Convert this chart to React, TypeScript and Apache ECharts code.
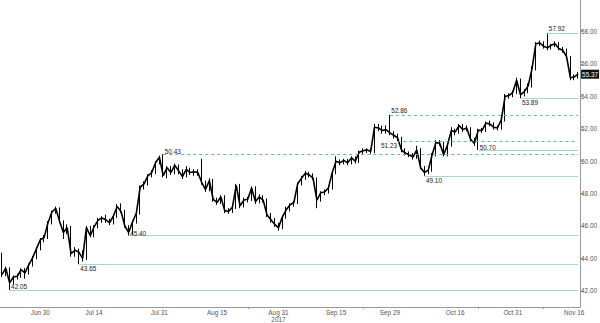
import React, { useEffect, useRef } from "react";
import * as echarts from "echarts";

// one candle per calendar day, starting 2017-06-20: [open, close, low, high]
const startDate = "2017-06-20";
const candles: number[][] = [
  [44.25, 43.0, 42.85, 44.35], [43.0, 43.4, 42.9, 43.5], [43.4, 42.5, 42.05, 43.45], [42.5, 42.85, 42.4, 42.95],
  [42.85, 42.9, 42.7, 43.05], [42.9, 43.3, 42.8, 43.4], [43.3, 43.1, 42.75, 43.4], [43.1, 43.6, 43.0, 43.7],
  [43.6, 44.05, 43.5, 44.15], [44.05, 44.6, 43.95, 44.7], [44.6, 45.15, 44.5, 45.25], [45.15, 45.3, 45.0, 45.45],
  [45.3, 46.2, 45.2, 46.3], [46.2, 46.85, 46.1, 46.95], [46.85, 47.1, 46.75, 47.2], [47.1, 46.3, 46.2, 47.15],
  [46.3, 45.6, 45.2, 46.35], [45.6, 45.9, 45.5, 46.1], [45.9, 44.3, 44.1, 46.0], [44.3, 44.5, 44.1, 44.7],
  [44.5, 44.4, 43.65, 44.6], [44.4, 44.0, 43.8, 44.5], [44.0, 45.9, 43.9, 46.0], [45.9, 45.4, 45.3, 46.0],
  [45.4, 45.95, 45.3, 46.05], [45.95, 46.35, 45.85, 46.5], [46.35, 46.5, 46.2, 46.6], [46.5, 46.4, 46.2, 46.7],
  [46.4, 46.2, 46.05, 46.45], [46.2, 46.6, 46.1, 46.7], [46.6, 47.2, 46.5, 47.35], [47.2, 46.9, 46.8, 47.4],
  [46.9, 46.0, 45.9, 47.0], [46.0, 45.6, 45.4, 46.05], [45.6, 46.25, 45.5, 46.35], [46.25, 46.8, 46.15, 46.9],
  [46.8, 48.4, 46.7, 48.5], [48.4, 48.6, 48.25, 48.75], [48.6, 49.1, 48.5, 49.2], [49.1, 49.3, 49.0, 49.45],
  [49.3, 49.9, 49.2, 50.0], [49.9, 50.25, 49.8, 50.35], [50.25, 49.1, 49.0, 50.43], [49.1, 49.6, 48.95, 49.7],
  [49.6, 49.3, 49.15, 49.7], [49.3, 49.75, 49.2, 49.85], [49.75, 49.4, 49.2, 49.8], [49.4, 49.05, 48.9, 49.5],
  [49.05, 49.5, 49.0, 49.7], [49.5, 49.3, 49.15, 49.6], [49.3, 49.35, 49.1, 49.5], [49.35, 49.3, 49.1, 49.5],
  [49.3, 48.7, 48.55, 50.15], [48.7, 48.25, 48.1, 48.8], [48.25, 48.8, 48.15, 48.95], [48.8, 47.65, 47.5, 48.9],
  [47.65, 47.45, 47.3, 47.75], [47.45, 47.8, 47.35, 47.9], [47.8, 46.95, 46.8, 47.9], [46.95, 46.9, 46.75, 47.1],
  [46.9, 47.15, 46.8, 47.3], [47.15, 48.5, 47.05, 48.6], [48.5, 47.25, 47.1, 48.6], [47.25, 47.6, 47.15, 47.75],
  [47.6, 47.65, 47.45, 47.8], [47.65, 48.35, 47.55, 48.45], [48.35, 47.5, 47.35, 48.45], [47.5, 47.8, 47.4, 47.95],
  [47.8, 47.6, 47.45, 47.9], [47.6, 46.7, 46.55, 47.7], [46.7, 46.4, 46.2, 46.8], [46.4, 46.1, 45.95, 46.5],
  [46.1, 45.9, 45.72, 46.2], [45.9, 46.55, 45.8, 46.65], [46.55, 47.0, 46.45, 47.2], [47.0, 47.3, 46.9, 47.4],
  [47.3, 47.45, 47.2, 47.55], [47.45, 48.6, 47.35, 48.7], [48.6, 48.95, 48.5, 49.1], [48.95, 49.25, 48.85, 49.4],
  [49.25, 49.15, 49.0, 49.35], [49.15, 48.95, 48.85, 49.25], [48.95, 47.6, 47.1, 49.0], [47.6, 48.05, 47.5, 48.15],
  [48.05, 48.1, 47.9, 48.25], [48.1, 48.35, 48.0, 48.45], [48.35, 49.3, 48.25, 49.4], [49.3, 50.0, 49.2, 50.3],
  [50.0, 49.9, 49.75, 50.1], [49.9, 50.05, 49.8, 50.15], [50.05, 49.9, 49.75, 50.15], [49.9, 50.2, 49.8, 50.3],
  [50.2, 50.0, 49.85, 50.3], [50.0, 50.55, 49.9, 50.65], [50.55, 50.65, 50.45, 50.8], [50.65, 50.7, 50.5, 50.8],
  [50.7, 50.6, 50.45, 50.8], [50.6, 52.1, 50.5, 52.3], [52.1, 52.05, 51.85, 52.3], [52.05, 51.9, 51.7, 52.2],
  [51.9, 51.95, 51.7, 52.2], [51.95, 51.75, 51.6, 52.86], [51.75, 51.6, 51.4, 51.85], [51.6, 51.45, 51.23, 51.7],
  [51.45, 50.7, 50.55, 51.5], [50.7, 50.5, 50.35, 50.8], [50.5, 50.4, 50.25, 50.6], [50.4, 50.25, 50.1, 50.5],
  [50.25, 50.7, 50.15, 50.95], [50.7, 49.6, 49.5, 50.8], [49.6, 49.3, 49.1, 49.7], [49.3, 49.45, 49.2, 49.6],
  [49.45, 50.4, 49.35, 50.5], [50.4, 51.15, 50.3, 51.3], [51.15, 51.1, 50.95, 51.3], [51.1, 50.4, 50.3, 51.2],
  [50.4, 51.0, 50.3, 51.1], [51.0, 51.9, 50.9, 52.1], [51.9, 51.8, 51.6, 52.0], [51.8, 52.2, 51.7, 52.3],
  [52.2, 51.95, 51.8, 52.3], [51.95, 52.05, 51.85, 52.2], [52.05, 51.35, 51.2, 52.1], [51.35, 51.1, 50.95, 51.45],
  [51.1, 51.9, 50.7, 52.0], [51.9, 51.9, 51.75, 52.05], [51.9, 52.35, 51.8, 52.45], [52.35, 52.3, 52.15, 52.5],
  [52.3, 52.1, 51.95, 52.4], [52.1, 52.05, 51.9, 52.2], [52.05, 52.55, 51.95, 52.7], [52.55, 54.0, 52.45, 54.15],
  [54.0, 54.05, 53.85, 54.2], [54.05, 54.25, 53.95, 54.35], [54.25, 55.0, 54.15, 55.15], [55.0, 54.1, 53.89, 55.1],
  [54.1, 54.3, 54.0, 54.45], [54.3, 54.65, 54.2, 54.8], [54.65, 55.7, 54.55, 55.85], [55.7, 57.25, 55.6, 57.35],
  [57.25, 57.3, 57.1, 57.45], [57.3, 57.1, 56.95, 57.4], [57.1, 57.0, 56.85, 57.92], [57.0, 57.15, 56.9, 57.25],
  [57.15, 57.25, 57.05, 57.4], [57.25, 56.95, 56.85, 57.35], [56.95, 56.85, 56.7, 57.05], [56.85, 56.45, 56.3, 56.95],
  [56.45, 55.15, 55.0, 56.5], [55.15, 55.2, 55.0, 55.35], [55.2, 55.37, 55.1, 55.5],
];

// support / resistance levels
const levelValues = [57.92, 53.89, 52.86, 51.23, 50.7, 50.43, 49.1, 45.4, 43.65, 42.05];
const levelStartDates = [
  "2017-11-09", "2017-11-02", "2017-09-29", "2017-10-01", "2017-10-22",
  "2017-08-01", "2017-10-08", "2017-07-23", "2017-07-10", "2017-06-22",
];
const levelDashed = [false, false, true, true, false, true, false, false, false, false];

const tickDates = [
  "2017-06-30", "2017-07-14", "2017-07-31", "2017-08-15", "2017-08-31",
  "2017-09-15", "2017-09-29", "2017-10-16", "2017-10-31", "2017-11-16",
];
const tickLabels = ["Jun 30", "Jul 14", "Jul 31", "Aug 15", "Aug 31", "Sep 15", "Sep 29", "Oct 16", "Oct 31", "Nov 16"];
const yearLabel = "2017";
const yearUnderDate = "2017-08-31";
const minorTickDates = ["2017-08-23", "2017-09-22", "2017-10-22", "2017-11-08"];
const lastPrice = 55.37;

// label placement (style): side and vertical offset
const levelLabelSide = ["right", "right", "right", "left", "right", "right", "right", "right", "right", "right"];
const levelLabelDy = [-4.5, 4.5, -4, 4.5, -2.5, -3, 5, -2, 4.5, -3];

const SOLID = "#a3dcc6";
const DASHED = "#5fbaa8";
const FONT = "Liberation Sans";

function buildCategories(): string[] {
  const out: string[] = [];
  const [y, m, d] = startDate.split("-").map(Number);
  const t0 = Date.UTC(y, m - 1, d);
  for (let i = 0; i < candles.length; i++) {
    out.push(new Date(t0 + i * 86400000).toISOString().slice(0, 10));
  }
  return out;
}

export default function App() {
  const ref = useRef<HTMLDivElement>(null);

  useEffect(() => {
    document.body.style.margin = "0";
    if (!ref.current) return;
    const chart = echarts.init(ref.current, undefined, { renderer: "svg" });
    const categories = buildCategories();
    const lastIdx = categories.length - 1;
    const tickIdx = tickDates.map((d) => categories.indexOf(d));
    const minorIdx = minorTickDates.map((d) => categories.indexOf(d));
    const startIdx = levelStartDates.map((d) => categories.indexOf(d));
    const closes = candles.map((c) => c[1]);

    const markLineData = levelValues.map((v, i) => [
      {
        coord: [startIdx[i], v],
        lineStyle: {
          color: levelDashed[i] ? DASHED : SOLID,
          width: 1,
          type: levelDashed[i] ? [3, 3] : "solid",
          opacity: 1,
        },
      },
      { coord: [lastIdx, v] },
    ]);

    const markPointData: any[] = levelValues.map((v, i) => ({
      coord: [startIdx[i], v],
      symbol: "circle",
      symbolSize: 1,
      itemStyle: { color: "rgba(0,0,0,0)" },
      label: {
        show: true,
        position: levelLabelSide[i],
        distance: levelLabelSide[i] === "left" ? 0 : 1,
        offset: [0, levelLabelDy[i]],
        formatter: v.toFixed(2),
        color: "#1a1a1a",
        fontSize: 6.4,
        fontFamily: FONT,
      },
    }));
    markPointData.push({
      coord: [lastIdx, lastPrice],
      symbol: "circle",
      symbolSize: 1,
      itemStyle: { color: "rgba(0,0,0,0)" },
      label: {
        show: true,
        position: "right",
        distance: 2.5,
        formatter: lastPrice.toFixed(2),
        color: "#ffffff",
        backgroundColor: "#111111",
        padding: [2, 1, 1, 1],
        fontSize: 6.4,
        fontFamily: FONT,
      },
    });

    chart.setOption({
      animation: false,
      backgroundColor: "#ffffff",
      grid: { left: 0, right: 18, top: 0, bottom: 14 },
      xAxis: {
        type: "category",
        data: categories,
        boundaryGap: true,
        axisLine: { show: true, lineStyle: { color: "#999999", width: 1 } },
        axisTick: {
          show: true,
          alignWithLabel: true,
          length: 2,
          interval: (i: number) => minorIdx.includes(i),
          lineStyle: { color: "#999999" },
        },
        axisLabel: {
          interval: (i: number) => tickIdx.includes(i),
          formatter: (_v: string, i: number) => {
            const k = tickIdx.indexOf(i);
            if (k < 0) return "";
            return tickDates[k] === yearUnderDate ? tickLabels[k] + "\n" + yearLabel : tickLabels[k];
          },
          color: "#555555",
          fontSize: 6.4,
          fontFamily: FONT,
          margin: 2,
          lineHeight: 7,
        },
        splitLine: { show: false },
      },
      yAxis: {
        type: "value",
        position: "right",
        min: 41,
        max: 59.95,
        splitNumber: 10,
        axisLine: { show: true, lineStyle: { color: "#999999", width: 1 } },
        axisTick: { show: true, length: 3, lineStyle: { color: "#999999" } },
        axisLabel: {
          formatter: (v: number) => v.toFixed(2),
          color: "#555555",
          fontSize: 6.4,
          fontFamily: FONT,
          margin: 1,
          showMinLabel: false,
          showMaxLabel: false,
        },
        splitLine: { show: false },
      },
      series: [
        {
          type: "line",
          data: closes,
          showSymbol: false,
          symbol: "none",
          silent: true,
          lineStyle: { color: "#000000", width: 1.6 },
          z: 2,
        },
        {
          type: "candlestick",
          data: candles,
          barWidth: 1.2,
          z: 3,
          itemStyle: {
            color: "#000000",
            color0: "#000000",
            borderColor: "#000000",
            borderColor0: "#000000",
            borderColorDoji: "#000000",
            borderWidth: 1,
          },
          markLine: {
            silent: true,
            symbol: ["none", "none"],
            label: { show: false },
            data: markLineData,
          },
          markPoint: {
            silent: true,
            data: markPointData,
          },
        },
      ],
    });
    return () => chart.dispose();
  }, []);

  return <div ref={ref} style={{ width: 600, height: 323 }} />;
}
